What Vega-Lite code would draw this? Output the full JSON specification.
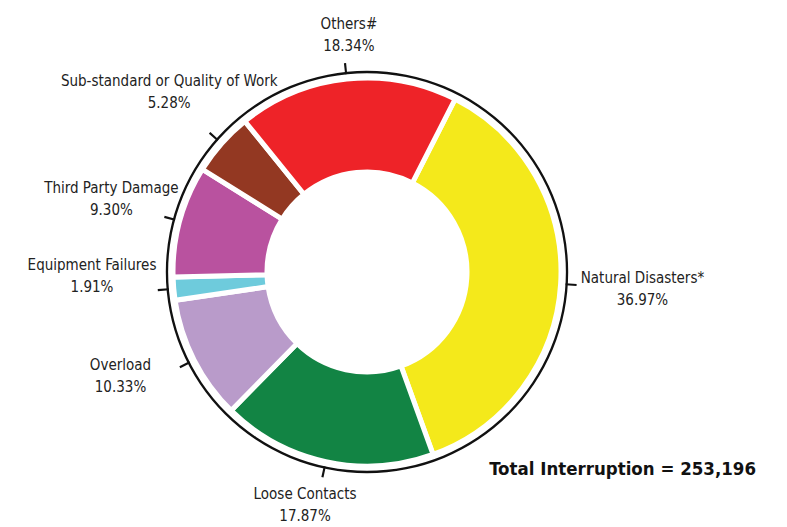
{
  "$schema": "https://vega.github.io/schema/vega-lite/v6.json",
  "width": 734,
  "height": 500,
  "autosize": "none",
  "padding": {"top": 22, "left": 0, "right": 53, "bottom": 5},
  "background": "white",
  "view": {"stroke": null},
  "config": {"font": "DejaVu Sans Condensed, sans-serif"},
  "title": {
    "text": "Total Interruption = 253,196",
    "orient": "bottom",
    "anchor": "end",
    "frame": "group",
    "offset": -64,
    "dx": 22,
    "fontSize": 18.5,
    "fontWeight": "bold",
    "color": "#111111",
    "font": "DejaVu Sans Condensed, sans-serif"
  },
  "datasets": {
    "causes": [
      {"cause": "Natural Disasters*", "pct": 36.97, "order": 1},
      {"cause": "Loose Contacts", "pct": 17.87, "order": 2},
      {"cause": "Overload", "pct": 10.33, "order": 3},
      {"cause": "Equipment Failures", "pct": 1.91, "order": 4},
      {"cause": "Third Party Damage", "pct": 9.30, "order": 5},
      {"cause": "Sub-standard or Quality of Work", "pct": 5.28, "order": 6},
      {"cause": "Others#", "pct": 18.34, "order": 7}
    ]
  },
  "resolve": {"scale": {"theta": "independent"}},
  "layer": [
    {
      "data": {"values": [{}]},
      "mark": {"type": "arc", "fill": "#111111"},
      "encoding": {
        "theta": {"value": 0},
        "theta2": {"value": 6.2832},
        "radius": {"value": 201.2},
        "radius2": {"value": 198.8}
      }
    },
    {
      "data": {"name": "causes"},
      "mark": {"type": "arc", "outerRadius": 194, "innerRadius": 100, "stroke": "white", "strokeWidth": 5},
      "encoding": {
        "theta": {"field": "pct", "type": "quantitative", "stack": true, "scale": {"range": [0.47124, 6.75442]}},
        "order": {"field": "order", "type": "quantitative"},
        "color": {
          "field": "cause",
          "type": "nominal",
          "legend": null,
          "scale": {
            "domain": ["Natural Disasters*", "Loose Contacts", "Overload", "Equipment Failures", "Third Party Damage", "Sub-standard or Quality of Work", "Others#"],
            "range": ["#F4E91B", "#128444", "#B99BCA", "#6ECBDC", "#B9529F", "#933822", "#EE2328"]
          }
        }
      }
    },
    {
      "data": {"name": "causes"},
      "transform": [
        {"window": [{"op": "sum", "field": "pct", "as": "cum"}], "sort": [{"field": "order"}], "frame": [null, 0]},
        {"calculate": "0.47124 + (datum.cum - datum.pct / 2) * PI / 50", "as": "mid"},
        {"calculate": "datum.mid - 0.0052", "as": "t0"},
        {"calculate": "datum.mid + 0.0052", "as": "t1"}
      ],
      "mark": {"type": "arc", "fill": "#111111"},
      "encoding": {
        "theta": {"field": "t0", "type": "quantitative", "scale": null},
        "theta2": {"field": "t1"},
        "radius": {"value": 210},
        "radius2": {"value": 199}
      }
    },
    {
      "data": {"name": "causes"},
      "transform": [
        {"window": [{"op": "sum", "field": "pct", "as": "cum"}], "sort": [{"field": "order"}], "frame": [null, 0]},
        {"calculate": "0.47124 + (datum.cum - datum.pct / 2) * PI / 50", "as": "mid"},
        {"calculate": "datum.cause + '\\n' + format(datum.pct, '.2f') + '%'", "as": "label"},
        {"filter": "datum.cause == 'Natural Disasters*'"}
      ],
      "mark": {"type": "text", "fontSize": 15, "lineHeight": 22, "lineBreak": "\n", "align": "center", "baseline": "middle", "dy": -11, "color": "#222222"},
      "encoding": {
        "theta": {"field": "mid", "type": "quantitative", "scale": null},
        "radius": {"value": 276},
        "text": {"field": "label"}
      }
    },
    {
      "data": {"name": "causes"},
      "transform": [
        {"window": [{"op": "sum", "field": "pct", "as": "cum"}], "sort": [{"field": "order"}], "frame": [null, 0]},
        {"calculate": "0.47124 + (datum.cum - datum.pct / 2) * PI / 50", "as": "mid"},
        {"calculate": "datum.cause + '\\n' + format(datum.pct, '.2f') + '%'", "as": "label"},
        {"filter": "datum.cause == 'Third Party Damage' || datum.cause == 'Sub-standard or Quality of Work'"}
      ],
      "mark": {"type": "text", "fontSize": 15, "lineHeight": 22, "lineBreak": "\n", "align": "center", "baseline": "middle", "dx": 3, "dy": -14, "color": "#222222"},
      "encoding": {
        "theta": {"field": "mid", "type": "quantitative", "scale": null},
        "radius": {"value": 268},
        "text": {"field": "label"}
      }
    },
    {
      "data": {"name": "causes"},
      "transform": [
        {"window": [{"op": "sum", "field": "pct", "as": "cum"}], "sort": [{"field": "order"}], "frame": [null, 0]},
        {"calculate": "0.47124 + (datum.cum - datum.pct / 2) * PI / 50", "as": "mid"},
        {"calculate": "datum.cause + '\\n' + format(datum.pct, '.2f') + '%'", "as": "label"},
        {"filter": "datum.cause == 'Equipment Failures' || datum.cause == 'Overload'"}
      ],
      "mark": {"type": "text", "fontSize": 15, "lineHeight": 22, "lineBreak": "\n", "align": "center", "baseline": "middle", "dx": -5, "dy": -30, "color": "#222222"},
      "encoding": {
        "theta": {"field": "mid", "type": "quantitative", "scale": null},
        "radius": {"value": 271},
        "text": {"field": "label"}
      }
    },
    {
      "data": {"name": "causes"},
      "transform": [
        {"window": [{"op": "sum", "field": "pct", "as": "cum"}], "sort": [{"field": "order"}], "frame": [null, 0]},
        {"calculate": "0.47124 + (datum.cum - datum.pct / 2) * PI / 50", "as": "mid"},
        {"calculate": "datum.cause + '\\n' + format(datum.pct, '.2f') + '%'", "as": "label"},
        {"filter": "datum.cause == 'Others#'"}
      ],
      "mark": {"type": "text", "fontSize": 15, "lineHeight": 22, "lineBreak": "\n", "align": "center", "baseline": "middle", "dx": 7, "dy": -9, "color": "#222222"},
      "encoding": {
        "theta": {"field": "mid", "type": "quantitative", "scale": null},
        "radius": {"value": 240},
        "text": {"field": "label"}
      }
    },
    {
      "data": {"name": "causes"},
      "transform": [
        {"window": [{"op": "sum", "field": "pct", "as": "cum"}], "sort": [{"field": "order"}], "frame": [null, 0]},
        {"calculate": "0.47124 + (datum.cum - datum.pct / 2) * PI / 50", "as": "mid"},
        {"calculate": "datum.cause + '\\n' + format(datum.pct, '.2f') + '%'", "as": "label"},
        {"filter": "datum.cause == 'Loose Contacts'"}
      ],
      "mark": {"type": "text", "fontSize": 15, "lineHeight": 22, "lineBreak": "\n", "align": "center", "baseline": "middle", "dx": -11, "dy": -13, "color": "#222222"},
      "encoding": {
        "theta": {"field": "mid", "type": "quantitative", "scale": null},
        "radius": {"value": 240},
        "text": {"field": "label"}
      }
    }
  ]
}
